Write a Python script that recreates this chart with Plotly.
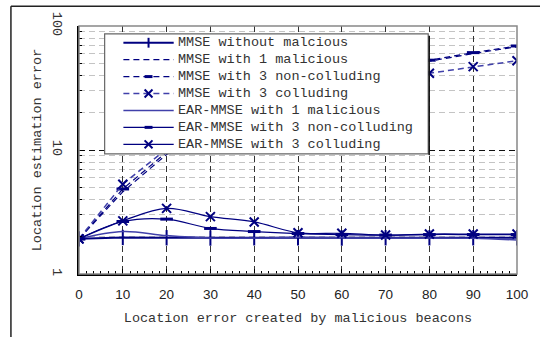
import plotly.graph_objects as go

x = [0, 10, 20, 30, 40, 50, 60, 70, 80, 90, 100]

mmse_none = [1.92, 1.97, 1.96, 1.95, 1.96, 1.96, 1.95, 1.96, 1.96, 1.96, 1.96]
mmse_one = [1.92, 4.6, 9.2, 15.5, 22.5, 30, 38, 45.5, 52, 60, 68]
mmse_nonc = [1.92, 4.85, 9.6, 16.5, 23.5, 31, 39, 46.5, 53, 61, 69]
mmse_coll = [1.92, 5.3, 10.2, 15.5, 20.5, 25.5, 31, 36.5, 41.6, 47, 52.5]
ear_one = [1.92, 2.2, 2.04, 1.95, 1.95, 1.98, 1.96, 1.95, 1.95, 1.94, 1.88]
ear_nonc = [1.92, 2.65, 2.77, 2.33, 2.2, 2.12, 2.08, 2.06, 2.08, 2.08, 2.08]
ear_coll = [1.92, 2.68, 3.38, 2.9, 2.63, 2.15, 2.13, 2.06, 2.1, 2.1, 2.1]

names = [
    "MMSE without malcious",
    "MMSE with 1 malicious",
    "MMSE with 3 non-colluding",
    "MMSE with 3 colluding",
    "EAR-MMSE with 1 malicious",
    "EAR-MMSE with 3 non-colluding",
    "EAR-MMSE with 3 colluding",
]
x_ticks = [0, 10, 20, 30, 40, 50, 60, 70, 80, 90, 100]
y_ticks = [1, 10, 100]

NAVY = "#000080"
LIGHT = "#4040aa"
MONO = "Liberation Mono"
DASH = "6px,4px"

# style per series: line colour, width, dash, marker kind, shape
styles = [
    (NAVY, 2.0, "solid", "plus", "linear"),
    (NAVY, 1.2, DASH, None, "linear"),
    (NAVY, 1.2, DASH, "bar", "linear"),
    (LIGHT, 1.5, DASH, "x", "linear"),
    (LIGHT, 1.5, "solid", None, "spline"),
    (NAVY, 1.2, "solid", "bar", "spline"),
    (NAVY, 1.2, "solid", "x", "spline"),
]
series = [mmse_none, mmse_one, mmse_nonc, mmse_coll, ear_one, ear_nonc, ear_coll]

marker_defs = {
    "plus": dict(symbol="line-ns", size=11, line=dict(width=2, color=NAVY)),
    "bar": dict(symbol="line-ew", size=9, line=dict(width=3, color=NAVY)),
    "x": dict(symbol="x-thin", size=9, line=dict(width=2, color=NAVY)),
}

fig = go.Figure()
for ys, (col, w, dash, mk, shape), nm in zip(series, styles, names):
    ln = dict(color=col, width=w, dash=dash, shape=shape)
    if mk is None:
        fig.add_trace(go.Scatter(x=x, y=ys, name=nm, mode="lines", line=ln, showlegend=False))
    else:
        fig.add_trace(go.Scatter(x=x, y=ys, name=nm, mode="lines+markers", line=ln,
                                 marker=dict(marker_defs[mk], color=NAVY), showlegend=False))

L, R, T, B = 79, 17, 22, 63
W, H = 540, 337
pw, ph = W - L - R, H - T - B


def px(v):
    return (v - L) / pw


def py(v):
    return (H - B - v) / ph


# gray frame (top/right)
fig.add_shape(type="rect", xref="paper", yref="paper", x0=0, y0=0, x1=1, y1=1,
              line=dict(color="#888888", width=1.5), layer="above")
# outer border lines
fig.add_shape(type="line", xref="paper", yref="paper", x0=px(10), x1=px(10), y0=py(400), y1=py(2),
              line=dict(color="#222222", width=1.5))
fig.add_shape(type="line", xref="paper", yref="paper", x0=px(10), x1=px(600), y0=py(2), y1=py(2),
              line=dict(color="#222222", width=1.5))

# hand-built legend (to match the compact row spacing)
LX0, LY0, LX1, LY1 = 105, 30, 433, 152
fig.add_shape(type="rect", xref="paper", yref="paper", x0=px(LX0), y0=py(LY0), x1=px(LX1), y1=py(LY1),
              line=dict(color="#666666", width=1.2), fillcolor="white", layer="above")
fig.add_shape(type="line", xref="paper", yref="paper", x0=px(LX1 + 1), x1=px(LX1 + 1), y0=py(LY0 + 2), y1=py(LY1 + 1),
              line=dict(color="#111111", width=1.5), layer="above")
row_y = [39, 56.2, 73.4, 90.6, 107.8, 125, 142.2]
SX0, SX1, SXC, TX = 124, 175, 149.5, 177
for (col, w, dash, mk, shape), nm, ry in zip(styles, names, row_y):
    fig.add_shape(type="line", xref="paper", yref="paper", x0=px(SX0), x1=px(SX1), y0=py(ry), y1=py(ry),
                  line=dict(color=col, width=w, dash=dash), layer="above")
    if mk == "plus":
        fig.add_shape(type="line", xref="paper", yref="paper", x0=px(SXC), x1=px(SXC), y0=py(ry - 5), y1=py(ry + 5),
                      line=dict(color=NAVY, width=2), layer="above")
    elif mk == "bar":
        fig.add_shape(type="line", xref="paper", yref="paper", x0=px(SXC - 4), x1=px(SXC + 4), y0=py(ry), y1=py(ry),
                      line=dict(color=NAVY, width=3), layer="above")
    elif mk == "x":
        for a, b in ((-4, 4), (4, -4)):
            fig.add_shape(type="line", xref="paper", yref="paper", x0=px(SXC - 4), x1=px(SXC + 4),
                          y0=py(ry + a), y1=py(ry + b), line=dict(color=NAVY, width=2), layer="above")
    fig.add_annotation(xref="paper", yref="paper", x=px(TX), y=py(ry), text=nm, showarrow=False,
                       xanchor="left", yanchor="middle",
                       font=dict(family=MONO, size=13.5, color="#333333"))

fig.update_layout(
    width=W, height=H,
    margin=dict(l=L, r=R, t=T, b=B),
    paper_bgcolor="white", plot_bgcolor="white",
    showlegend=False,
    xaxis=dict(
        range=[0, 100], tickvals=x_ticks, ticktext=[str(v) for v in x_ticks],
        ticks="inside", ticklen=5, tickcolor="black",
        showline=True, linecolor="black", linewidth=1.5,
        showgrid=True, gridcolor="#333333", griddash=DASH, gridwidth=1,
        minor=dict(dtick=10 / 6, ticks="inside", ticklen=3, tickcolor="black", showgrid=False),
        tickfont=dict(family="Liberation Sans", size=13.5, color="#222222"),
        title=dict(text="Location error created by malicious beacons",
                   font=dict(family=MONO, size=13.5, color="#333333"), standoff=12),
        ticklabelstandoff=7,
        zeroline=False,
    ),
    yaxis=dict(
        type="log", range=[0, 2], tickvals=y_ticks, ticktext=[str(v) for v in y_ticks],
        tickangle=90,
        ticks="inside", ticklen=5, tickcolor="black",
        showline=True, linecolor="black", linewidth=1.5,
        showgrid=True, gridcolor="#111111", griddash=DASH, gridwidth=1,
        minor=dict(tickvals=[2, 3, 4, 5, 6, 7, 8, 9, 20, 30, 40, 50, 60, 70, 80, 90],
                   ticks="inside", ticklen=3, tickcolor="black",
                   showgrid=True, gridcolor="#c4c4c4", griddash=DASH, gridwidth=1),
        tickfont=dict(family=MONO, size=13.5, color="#333333"),
        title=dict(text="Location estimation error",
                   font=dict(family=MONO, size=13.5, color="#333333"), standoff=4),
        ticklabelstandoff=8,
        zeroline=False,
    ),
)

fig.write_html("out.html")
